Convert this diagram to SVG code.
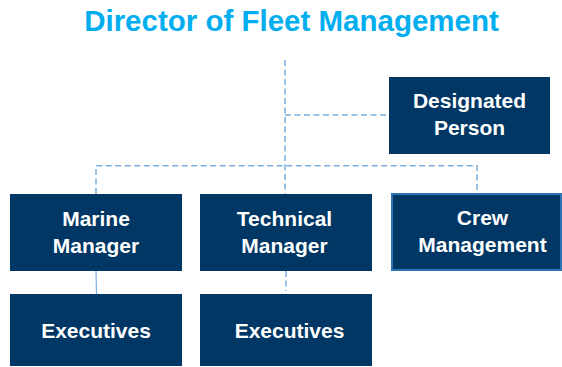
<svg xmlns="http://www.w3.org/2000/svg" width="562" height="367" viewBox="0 0 562 367">
<style>
.box{fill:#003764}
.lbl{font-family:"Liberation Sans",Arial,sans-serif;font-weight:bold;font-size:21px;fill:#ffffff;text-anchor:middle}
.dash{fill:none;stroke:#7aaede;stroke-width:1.5;stroke-dasharray:6 3.5}
.solid{fill:none;stroke:#7aaede;stroke-width:1.2}
</style>
<rect width="562" height="367" fill="#ffffff"/>
<text x="291.5" y="31" font-family="Liberation Sans,Arial,sans-serif" font-weight="bold" font-size="29.5" fill="#00aeef" text-anchor="middle">Director of Fleet Management</text>
<g id="connectors">
<path class="dash" d="M285 60 V194"/>
<path class="dash" d="M285 115 H389"/>
<path class="dash" d="M96 194 V165.7 H477 V193"/>
<path class="solid" d="M96 271 L96.5 294"/>
<path class="dash" d="M286 271 V291"/>
</g>
<g id="designated">
<rect class="box" x="389" y="77" width="161" height="77"/>
<text class="lbl" x="469.5" y="108">Designated</text>
<text class="lbl" x="469.5" y="135">Person</text>
</g>
<g id="marine">
<rect class="box" x="10" y="194" width="172" height="77"/>
<text class="lbl" x="96" y="225.5">Marine</text>
<text class="lbl" x="96" y="252.5">Manager</text>
</g>
<g id="technical">
<rect class="box" x="200" y="194" width="172" height="77"/>
<text class="lbl" x="284.5" y="225.5">Technical</text>
<text class="lbl" x="284.5" y="252.5">Manager</text>
</g>
<g id="crew">
<rect class="box" x="392" y="194" width="169" height="76" stroke="#2e74b5" stroke-width="2"/>
<text class="lbl" x="482.5" y="225">Crew</text>
<text class="lbl" x="482.5" y="252">Management</text>
</g>
<g id="exec1">
<rect class="box" x="10" y="294" width="172" height="72"/>
<text class="lbl" x="96" y="338">Executives</text>
</g>
<g id="exec2">
<rect class="box" x="200" y="294" width="172" height="72"/>
<text class="lbl" x="289.5" y="338">Executives</text>
</g>
</svg>
